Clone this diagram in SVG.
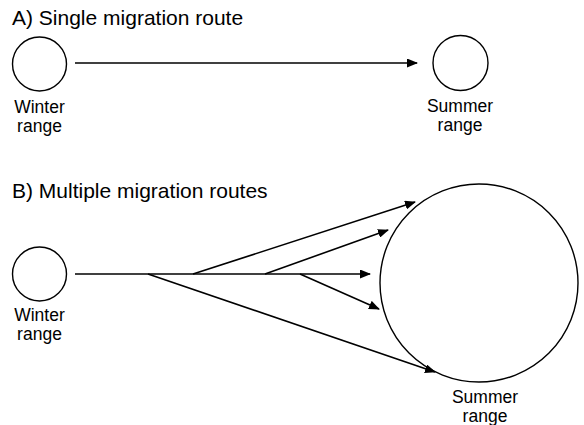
<svg xmlns="http://www.w3.org/2000/svg" width="584" height="425" viewBox="0 0 584 425">
<defs>
<marker id="ah" markerWidth="11" markerHeight="9" refX="10" refY="4.5" orient="auto" markerUnits="userSpaceOnUse">
<path d="M0,0 L11,4.5 L0,9 Z" fill="#000"/>
</marker>
</defs>
<style>
.t{font-family:"Liberation Sans",Arial,sans-serif;font-size:21px;fill:#000}
.l{font-family:"Liberation Sans",Arial,sans-serif;font-size:17.5px;fill:#000;text-anchor:middle}
.c{fill:#fff;stroke:#000;stroke-width:1.4}
.e{fill:none;stroke:#000;stroke-width:1.6;marker-end:url(#ah)}
</style>
<rect width="584" height="425" fill="#fff"/>
<text class="t" x="12" y="25">A) Single migration route</text>
<text class="t" x="12" y="198">B) Multiple migration routes</text>
<g id="winterA">
<circle class="c" cx="39.5" cy="64" r="27"/>
<text class="l" x="39.5" y="113">Winter</text>
<text class="l" x="39.5" y="132">range</text>
</g>
<g id="summerA">
<circle class="c" cx="460.5" cy="63" r="27.5"/>
<text class="l" x="460" y="112">Summer</text>
<text class="l" x="460" y="131">range</text>
</g>
<g id="winterB">
<circle class="c" cx="39.5" cy="274" r="27"/>
<text class="l" x="39.5" y="321">Winter</text>
<text class="l" x="39.5" y="340">range</text>
</g>
<g id="summerB">
<circle class="c" cx="479" cy="283" r="99"/>
<text class="l" x="485" y="403">Summer</text>
<text class="l" x="485" y="422">range</text>
</g>
<g id="connectors">
<line class="e" x1="75" y1="63" x2="417" y2="63"/>
<line class="e" x1="75" y1="274" x2="370" y2="274"/>
<line class="e" x1="148" y1="274" x2="435" y2="372"/>
<line class="e" x1="193" y1="274" x2="415" y2="202"/>
<line class="e" x1="265" y1="274" x2="388" y2="230"/>
<line class="e" x1="300" y1="274" x2="379" y2="309"/>
</g>
</svg>
